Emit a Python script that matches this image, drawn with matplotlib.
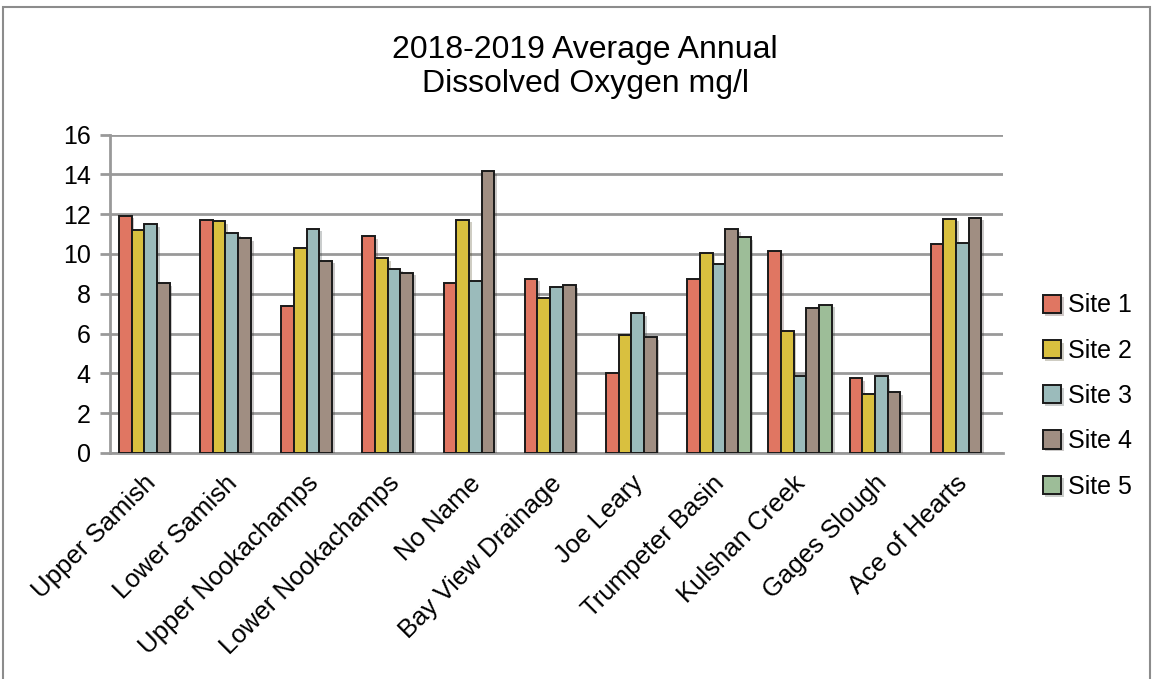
import numpy as np
import matplotlib
matplotlib.use("Agg")
from matplotlib import pyplot as plt
from matplotlib import patheffects as pe
from matplotlib import transforms
from matplotlib.patches import Rectangle

plt.rcParams['font.family'] = ['Liberation Sans', 'DejaVu Sans']

categories = ["Upper Samish", "Lower Samish", "Upper Nookachamps", "Lower Nookachamps",
              "No Name", "Bay View Drainage", "Joe Leary", "Trumpeter Basin",
              "Kulshan Creek", "Gages Slough", "Ace of Hearts"]
site_names = ["Site 1", "Site 2", "Site 3", "Site 4", "Site 5"]
nan = np.nan
site1 = [11.92, 11.72, 7.38, 10.89, 8.54, 8.76, 4.0, 8.76, 10.15, 3.77, 10.49]
site2 = [11.19, 11.66, 10.3, 9.8, 11.72, 7.8, 5.91, 10.03, 6.14, 2.97, 11.78]
site3 = [11.5, 11.04, 11.27, 9.26, 8.64, 8.34, 7.01, 9.48, 3.88, 3.86, 10.53]
site4 = [8.54, 10.8, 9.66, 9.06, 14.16, 8.44, 5.84, 11.24, 7.3, 3.04, 11.83]
site5 = [nan, nan, nan, nan, nan, nan, nan, 10.84, 7.45, nan, nan]
colors = ["#E07662", "#D9C03F", "#9BBBBB", "#A08E82", "#9DBD98"]

fig = plt.figure(figsize=(11.54, 6.79), dpi=100)
# outer chart border
fig.patches.append(Rectangle((3 / 1154, -0.05), 1147 / 1154, 1.05 - 7 / 679,
                             transform=fig.transFigure, fill=False,
                             edgecolor="#8c8c8c", linewidth=1.5))

ax = fig.add_axes([110 / 1154, 1 - 453 / 679, 893 / 1154, (453 - 134.5) / 679])

series = [site1, site2, site3, site4, site5]
x = np.arange(len(categories))
w = 1 / 6.4
shadow = [pe.SimplePatchShadow(offset=(2, -2), alpha=0.25), pe.Normal()]
for i, vals in enumerate(series):
    pos = x - 2 * w + i * w
    bars = ax.bar(pos, vals, width=w, color=colors[i], edgecolor="#1a1a1a",
                  linewidth=1.4, label=site_names[i], zorder=3)
    for b in bars:
        b.set_path_effects(shadow)

ax.set_xlim(-0.5, len(categories) - 0.5)
ax.set_ylim(0, 16)
ax.set_yticks(range(0, 17, 2))
ax.yaxis.grid(True, color="#999999", linewidth=2)
ax.set_axisbelow(True)
ax.set_xticks(x)
ax.set_xticklabels(categories, rotation=45, ha="right", va="top",
                   rotation_mode="anchor", fontsize=18.5)
ax.tick_params(axis="x", length=0, pad=13)
ax.tick_params(axis="y", labelsize=18, length=7, width=2, color="#999999", pad=7)
# nudge the rotated labels a little to the left
shift = transforms.ScaledTranslation(-7 / 100, 0, fig.dpi_scale_trans)
for lbl in ax.get_xticklabels():
    lbl.set_transform(lbl.get_transform() + shift)
for s in ["top", "right"]:
    ax.spines[s].set_visible(False)
for s in ["left", "bottom"]:
    ax.spines[s].set_color("#999999")
    ax.spines[s].set_linewidth(2)

fig.text(0.507, 1 - 67 / 679, "2018-2019 Average Annual\nDissolved Oxygen mg/l",
         ha="center", va="center", fontsize=23, linespacing=1.15)

fig.legend(loc="center left", bbox_to_anchor=(1020 / 1154, 1 - 396 / 679),
           frameon=False, fontsize=18, handlelength=0.75, handleheight=0.75,
           handletextpad=0.25, labelspacing=0.85)

fig.savefig("out.png", dpi=100)
